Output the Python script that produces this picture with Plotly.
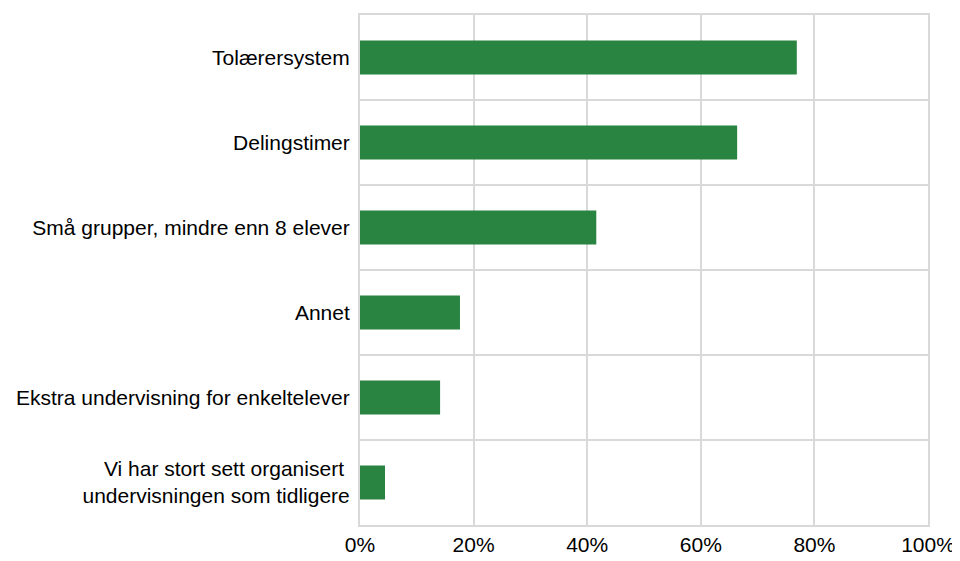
import plotly.graph_objects as go

# categories, top to bottom as in the chart
categories = [
    "Tolærersystem",
    "Delingstimer",
    "Små grupper, mindre enn 8 elever",
    "Annet",
    "Ekstra undervisning for enkeltelever",
    "Vi har stort sett organisert\u00a0<br>undervisningen som tidligere",
]
shares = [76.9, 66.4, 41.6, 17.6, 14.1, 4.4]  # percent
x_ticks = [0, 20, 40, 60, 80, 100]
x_tick_labels = ["0%", "20%", "40%", "60%", "80%", "100%"]

BAR_COLOR = "#288440"
GRID_COLOR = "#d9d9d9"

fig = go.Figure()
fig.add_trace(go.Bar(
    x=shares,
    y=categories,
    orientation="h",
    width=0.4,
    marker=dict(color=BAR_COLOR, line=dict(width=0)),
    hoverinfo="x+y",
))

# page body has an 8px margin, so the figure is a bit smaller than the window
fig.update_layout(
    width=952,
    height=553,
    margin=dict(l=352, r=28, t=5, b=32),
    plot_bgcolor="white",
    paper_bgcolor="white",
    font=dict(family="Liberation Sans, Arial, sans-serif", size=21, color="#000000"),
    showlegend=False,
    xaxis=dict(
        range=[0, 100],
        tickvals=x_ticks,
        ticktext=x_tick_labels,
        ticklabeloverflow="allow",
        showgrid=True,
        gridcolor=GRID_COLOR,
        gridwidth=2,
        showline=True,
        linecolor=GRID_COLOR,
        linewidth=2,
        mirror=True,
        zeroline=False,
        ticks="",
        fixedrange=True,
    ),
    yaxis=dict(
        type="category",
        autorange="reversed",
        tickson="boundaries",
        showgrid=True,
        gridcolor=GRID_COLOR,
        gridwidth=2,
        showline=True,
        linecolor=GRID_COLOR,
        linewidth=2,
        mirror=True,
        ticks="",
        ticklabelstandoff=4,
        fixedrange=True,
    ),
)

fig.write_html("out.html")
